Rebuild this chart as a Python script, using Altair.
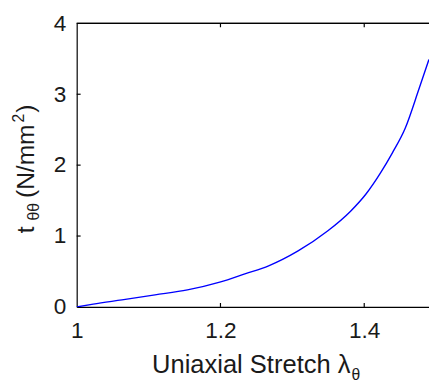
import altair as alt
import pandas as pd

# data
stretch = [1.0, 1.023, 1.063, 1.109, 1.154, 1.199, 1.235, 1.267, 1.308, 1.349,
           1.381, 1.403, 1.422, 1.439, 1.457, 1.476, 1.49]
stress = [0.0, 0.04, 0.10, 0.17, 0.24, 0.35, 0.47, 0.58, 0.79, 1.07,
          1.35, 1.60, 1.88, 2.17, 2.52, 3.07, 3.49]
x_ticks = [1.0, 1.2, 1.4]
x_inner_ticks = [1.2, 1.4]
y_ticks = [0, 1, 2, 3, 4]
y_inner_ticks = [1, 2, 3]

W, H = 359, 289
XMAX = 1 + W / 732.5
FONT = "Liberation Sans"
TXT = "#1a1a1a"

df = pd.DataFrame({"lam": stretch, "t": stress})
xs = alt.Scale(domain=[1.0, XMAX], nice=False, zero=False)
ys = alt.Scale(domain=[0, 4], nice=False)

line = alt.Chart(df).mark_line(color="#0000ff", strokeWidth=1.4, clip=True,
                               interpolate="monotone").encode(
    x=alt.X("lam:Q", scale=xs,
            axis=alt.Axis(values=x_ticks, title=None, ticks=False, grid=False,
                          labelPadding=13, labelFontSize=23, labelFont=FONT,
                          labelColor=TXT, domainColor="#000000", domainWidth=1.2,
                          labelFlush=False,
                          labelExpr="datum.value == 1 ? '1' : format(datum.value, '.1f')")),
    y=alt.Y("t:Q", scale=ys,
            axis=alt.Axis(values=y_ticks, title=None, ticks=False, grid=False,
                          labelPadding=11, labelFontSize=23, labelFont=FONT,
                          labelColor=TXT, domainColor="#000000", domainWidth=1.2,
                          labelFlush=False, format="d")),
)

xt = pd.DataFrame({"v": x_inner_ticks})
yt = pd.DataFrame({"v": y_inner_ticks})

xtick_bot = alt.Chart(xt).mark_rule(color="#000000", strokeWidth=1.2).encode(
    x=alt.X("v:Q", scale=xs), y=alt.value(H), y2=alt.value(H - 4))
xtick_top = alt.Chart(xt).mark_rule(color="#000000", strokeWidth=1.2).encode(
    x=alt.X("v:Q", scale=xs), y=alt.value(0), y2=alt.value(4))
ytick = alt.Chart(yt).mark_rule(color="#000000", strokeWidth=1.2).encode(
    y=alt.Y("v:Q", scale=ys), x=alt.value(0), x2=alt.value(4))
top_border = alt.Chart(xt).mark_rule(color="#000000", strokeWidth=1.2).encode(
    x=alt.value(0), x2=alt.value(W + 5), y=alt.value(0))

def txt(s, x, y, size, angle=0, align="left"):
    return alt.Chart(pd.DataFrame({"s": [s]})).mark_text(
        font=FONT, fontSize=size, color=TXT, align=align, baseline="alphabetic",
        angle=angle).encode(text="s:N", x=alt.value(x), y=alt.value(y))

# x title: "Uniaxial Stretch λ" with subscript θ
xtitle_main = txt("Uniaxial Stretch λ", 279, 356, 26, align="right")
xtitle_sub = txt("θ", 280, 363, 16)

# y title: "t" sub "θθ" "(N/mm" sup "2" ")"
yt1 = txt("t", -43, 214, 25, angle=270)
yt2 = txt("θθ", -38, 201, 16, angle=270)
yt3 = txt("(N/mm", -43, 178, 25, angle=270)
yt4 = txt("2", -54, 101, 16, angle=270)
yt5 = txt(")", -43, 91, 25, angle=270)

chart = alt.layer(
    line, xtick_bot, xtick_top, ytick, top_border,
    xtitle_main, xtitle_sub, yt1, yt2, yt3, yt4, yt5,
).properties(
    width=W, height=H,
    autosize=alt.AutoSizeParams(type="none"),
    padding={"left": 70, "top": 12, "right": 0, "bottom": 80},
    background="#ffffff",
).configure_view(stroke=None)

chart.save("out.html", embed_options={"renderer": "svg", "actions": False})
